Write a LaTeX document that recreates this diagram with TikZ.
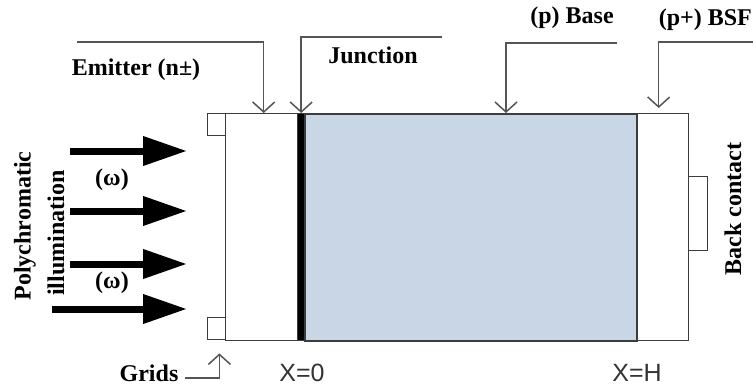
\documentclass[tikz,border=0pt]{standalone}
\usepackage{fontspec}
\setmainfont{Liberation Serif}
\newfontfamily\axisfont{Liberation Sans}
\usepackage{xcolor}
\usepackage{tikz}
\usetikzlibrary{arrows.meta,positioning}
\definecolor{basefill}{RGB}{201,214,230}
\definecolor{edge}{RGB}{60,60,60}
\definecolor{lead}{RGB}{85,85,85}
\tikzset{
  layer/.style  = {rectangle, draw=edge, line width=1.4pt, inner sep=0pt,
                   anchor=north west},
  lbl/.style    = {font=\fontsize{24}{26}\selectfont\bfseries, inner sep=0pt},
  axis/.style   = {font=\axisfont\fontsize{25}{27}\selectfont, text=black!80,
                   inner sep=0pt},
  leader/.style = {draw=lead, line width=1.5pt,
                   -{Straight Barb[length=10pt,width=22pt,line width=1.5pt]}},
  ray/.style    = {line width=7pt, -{Triangle[length=44pt,width=28pt]}},
}

\begin{document}
\begin{tikzpicture}[x=1pt, y=-1pt]
    \useasboundingbox (0,0) rectangle (753,386);
    % couches de la cellule
    \node[layer, minimum width=72pt, minimum height=227pt] (emit) at (225,113) {};
    \node[layer, fill=black, minimum width=7pt, minimum height=227pt] (junc) at (297,113) {};
    \node[layer, fill=basefill, line width=2pt, minimum width=332pt, minimum height=227pt] (base) at (304,113) {};
    \node[layer, minimum width=52pt, minimum height=227pt] (bsf) at (636,113) {};
    \node[layer, minimum width=19pt, minimum height=74pt] (back) at (688,176) {};
    \node[layer, minimum width=18pt, minimum height=22pt] (gridT) at (207,113) {};
    \node[layer, minimum width=18pt, minimum height=22pt] (gridB) at (207,317) {};
    % étiquettes
    \node[lbl] (emitL) at (136,70) {Emitter (n±)};
    \node[lbl] (juncL) at (373,55) {Junction};
    \node[lbl] (baseL) at (572,18) {(p) Base};
    \node[lbl, anchor=east] (bsfL) at (752,20) {(p+) BSF};
    \node[lbl] (gridL) at (149,373) {Grids};
    \node[lbl, rotate=90] (backL) at (733,209) {Back contact};
    \node[lbl, rotate=90] (polyL) at (25,226) {Polychromatic};
    \node[lbl, rotate=90] (illuL) at (56,233) {illumination};
    \node[lbl] (om1) at (112,180) {(ω)};
    \node[lbl] (om2) at (112,283) {(ω)};
    \node[axis] (x0) at (302,373) {X=0};
    \node[axis] (xH) at (637,373) {X=H};
    % lignes de rappel
    \coordinate (emS) at (77,42);
    \coordinate (juS) at (442,37);
    \coordinate (baS) at (617,43);
    \coordinate (bfS) at (753,42);
    \coordinate (grS) at (185,378);
    \draw[leader] (emS) -| ([xshift=2pt]emit.north);
    \draw[leader] (juS) -| (junc.north);
    \draw[leader] (baS) -| ([xshift=35pt]base.north);
    \draw[leader] (bfS) -| ([xshift=-4pt,yshift=5pt]bsf.north);
    \draw[leader] (grS) -| ([xshift=-7pt,yshift=-13pt]gridB.south east);
    % rayons incidents
    \foreach \y/\xs [count=\i] in {151/70, 211/70, 264/70, 309/52} {
      \coordinate (rayS\i) at (\xs,\y);
      \coordinate (rayE\i) at (187,\y);
      \draw[ray] (rayS\i) -- (rayE\i);
    }
\end{tikzpicture}
\end{document}
